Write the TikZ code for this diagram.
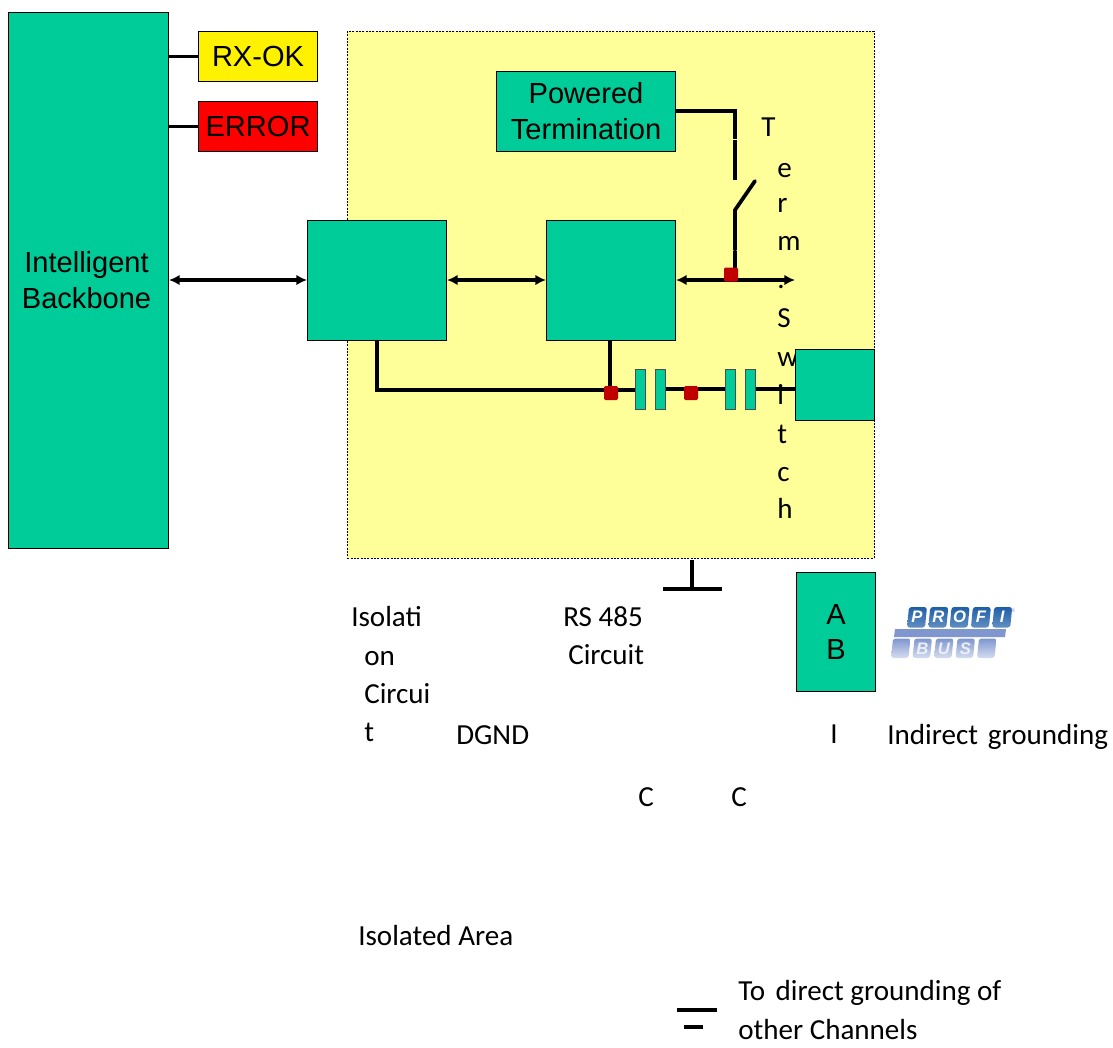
\documentclass[tikz,border=0pt]{standalone}
\usepackage{fontspec}
\setmainfont{Carlito}
\newfontfamily\arialf{Liberation Sans}
\usetikzlibrary{arrows.meta}
\definecolor{boxgreen}{HTML}{00CC99}
\definecolor{areayellow}{HTML}{FFFF99}
\definecolor{dotred}{HTML}{C00000}
\definecolor{pblue}{HTML}{1F5FA8}
\definecolor{pmid}{HTML}{7F96CE}
\definecolor{plight}{HTML}{B9C6E6}
\tikzset{
 x=0.75pt,y=-0.75pt,
 gbox/.style={draw=black,line width=0.8pt,fill=boxgreen,inner sep=0pt,align=center,font=\arialf\fontsize{21.8}{27}\selectfont},
 capbox/.style={draw=black!70,line width=0.6pt,fill=boxgreen},
 wire/.style={draw=black,line width=2.8pt},
 thinwire/.style={draw=black,line width=2.4pt},
 both/.style={draw=black,line width=2.3pt,{Latex[length=8pt,width=8pt]}-{Latex[length=8pt,width=8pt]}},
 dot/.style={fill=dotred,draw=none,rounded corners=1pt,minimum size=10.5pt,inner sep=0pt},
 lbl/.style={anchor=base west,inner sep=0pt,font=\fontsize{21.8}{26}\selectfont},
 ptile/.style={top color=pblue,bottom color=pblue!70!white,rounded corners=2pt,draw=none},
 ltile/.style={top color=pmid,bottom color=plight!60!white,rounded corners=2pt,draw=none},
 pletter/.style={inner sep=0pt,font=\arialf\bfseries\itshape\fontsize{12.5}{12.5}\selectfont},
}
\begin{document}
\begin{tikzpicture}
\useasboundingbox (0,0) rectangle (1113,1047);
\fill[white] (0,0) rectangle (1113,1047);
% isolated area
\node[draw=black,dash pattern=on 1.5pt off 1pt,line width=0.6pt,fill=areayellow,minimum width=395pt,minimum height=395.25pt,anchor=north west,inner sep=0pt] (area) at (347,31) {};
% vertical label (under the right-hand box)
\node[lbl] (t1) at (761,136) {T};
\node[lbl] (t2) at (777,177) {e};
\node[lbl] (t3) at (777,212) {r};
\node[lbl] (t4) at (777,250) {m};
\node[lbl] (t5) at (777,288) {.};
\node[lbl] (t6) at (777,327) {S};
\node[lbl] (t7) at (777,366) {w};
\node[lbl] (t8) at (777,404) {i};
\node[lbl] (t9) at (777,443) {t};
\node[lbl] (t10) at (777,481) {c};
\node[lbl] (t11) at (777,518) {h};
% boxes
\node[gbox,minimum width=120pt,minimum height=402pt,anchor=north west] (bb) at (8,12) {\raisebox{-0.7pt}{\hspace*{-3pt}Intelligent}\\\raisebox{-0.7pt}{\hspace*{-3pt}Backbone}};
\node[gbox,fill=yellow,minimum width=89.25pt,minimum height=37.5pt,anchor=north west] (rx) at (198,31) {\raisebox{-1pt}{RX-OK}};
\node[gbox,fill=red,minimum width=89.25pt,minimum height=37.5pt,anchor=north west] (err) at (198,101) {\raisebox{-1pt}{ERROR}};
\node[gbox,minimum width=134.25pt,minimum height=60pt,anchor=north west] (pt) at (496,71) {\raisebox{-0.7pt}{Powered}\\\raisebox{-0.7pt}{Termination}};
\node[gbox,minimum width=104.25pt,minimum height=90pt,anchor=north west] (iso) at (307,220) {};
\node[gbox,minimum width=96.75pt,minimum height=90pt,anchor=north west] (rs) at (546,220) {};
\node[gbox,minimum width=59.25pt,minimum height=53.25pt,anchor=north west] (rb) at (795,349) {};
\node[gbox,minimum width=59.25pt,minimum height=89.25pt,anchor=north west] (ab) at (796,572) {\raisebox{-1pt}{A}\\[-0.5pt]\raisebox{-1pt}{B}};
% capacitor plates
\node[capbox,minimum width=7.5pt,minimum height=30pt,inner sep=0pt,anchor=north west] (c1) at (635,369) {};
\node[capbox,minimum width=7.5pt,minimum height=30pt,inner sep=0pt,anchor=north west] (c2) at (655,369) {};
\node[capbox,minimum width=7.5pt,minimum height=30pt,inner sep=0pt,anchor=north west] (c3) at (725,369) {};
\node[capbox,minimum width=7.5pt,minimum height=30pt,inner sep=0pt,anchor=north west] (c4) at (745,369) {};
% coordinates
\coordinate (swtop) at (735,180);
\coordinate (swpivot) at (735,210);
\coordinate (swblade) at (755,181);
\coordinate (busend) at (795,280);
\coordinate (busj) at (735,280);
\coordinate (gt) at (692,560);
\coordinate (gb) at (692,589);
\coordinate (gl) at (663,589);
\coordinate (gr) at (722,589);
\coordinate (el) at (677,1010);
\coordinate (er) at (717,1010);
\coordinate (fl) at (684,1027);
\coordinate (fr) at (703,1027);
% wires
\draw[wire] (bb.east|-rx) -- (rx.west);
\draw[wire] (bb.east|-err) -- (err.west);
\draw[wire] (pt.east|-0,111) -- (735,111) -- (735,139);
\draw[wire] (735,139.8) -- (swtop);
\draw[wire,line cap=round] (swblade) -- (swpivot) -- (735,250);
\draw[wire] (735,250.8) -- (busj);
\draw[both] (bb.east|-0,280) -- (iso.west|-0,280);
\draw[both] (iso.east|-0,280) -- (rs.west|-0,280);
\draw[both] (rs.east|-0,280) -- (busend);
\draw[wire] (377,340) -- (377,390) -- (c1.west|-0,390);
\draw[wire] (610,340) -- (610,390);
\draw[thinwire] (c2.east|-0,389) -- (c3.west|-0,389);
\draw[thinwire] (c4.east|-0,389) -- (rb.west|-0,389);
\draw[wire] (gt) -- (gb);
\draw[wire] (gl) -- (gr);
\draw[wire] (el) -- (er);
\draw[wire] (fl) -- (fr);
% junctions
\node[dot] (d1) at (731,274.5) {};
\node[dot] (d2) at (611,393) {};
\node[dot] (d3) at (691,393) {};
% labels
\node[lbl] (a1) at (351,626) {Isolati};
\node[lbl] (a2) at (364,665) {on};
\node[lbl] (a3) at (364,703) {Circui};
\node[lbl] (a4) at (364,741) {t};
\node[lbl] (dg) at (456,744) {DGND};
\node[lbl] (r1) at (563,626) {RS 485};
\node[lbl] (r2) at (568,664) {Circuit};
\node[lbl] (cc1) at (638,806) {C};
\node[lbl] (cc2) at (731,806) {C};
\node[lbl] (ia) at (358,945) {Isolated Area};
\node[lbl] (i0) at (830,743) {I};
\node[lbl] (ig) at (887,744) {Indirect\hspace{2.5pt} grounding};
\node[lbl] (dg1) at (738,1000) {To\hspace{3pt} direct grounding of};
\node[lbl] (dg2) at (738,1039.5) {other Channels};
% logo
\fill[pmid] (895,629) -- (1006,629) -- (1005,637) -- (894,637) -- cycle;
\foreach \i/\l in {0/P,1/R,2/O,3/F,4/I}{
  \path[ptile] ({909+21.3*\i},607) -- ++(18,0) -- ++(-2,20.5) -- ++(-18,0) -- cycle;
  \node[pletter,text=white] (p\i) at ({917+21.3*\i},617) {\l};
}
\foreach \i/\l in {0/,1/B,2/U,3/S,4/}{
  \path[ltile] ({893+21.5*\i},638.5) -- ++(17.5,0) -- ++(-2,19.5) -- ++(-17.5,0) -- cycle;
  \node[pletter,text=white!85!pmid] (q\i) at ({901+21.5*\i},648.5) {\l};
}
\node[inner sep=0pt,text=pmid,font=\arialf\fontsize{4}{4}\selectfont] (reg) at (1013,611) {®};
\end{tikzpicture}
\end{document}
